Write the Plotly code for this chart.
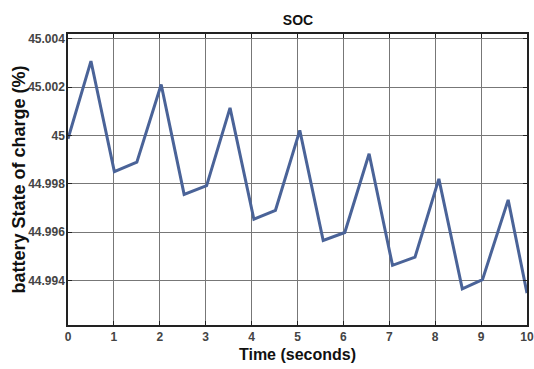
import plotly.graph_objects as go

time_s = [0, 0.50, 1.01, 1.50, 2.03, 2.53, 3.02, 3.53, 4.05, 4.52, 5.05, 5.56, 6.03, 6.56,
          7.07, 7.56, 8.08, 8.59, 9.03, 9.59, 10.0]
soc = [44.99986, 45.00308, 44.99850, 44.99889, 45.00211, 44.99756, 44.99792, 45.00114,
       44.99653, 44.99690, 45.00021, 44.99565, 44.99598, 44.99924, 44.99462, 44.99496,
       44.99820, 44.99365, 44.99403, 44.99733, 44.99347]
x_ticks = list(range(0, 11))
y_ticks = [44.994, 44.996, 44.998, 45.0, 45.002, 45.004]
y_tick_text = ["44.994", "44.996", "44.998", "45", "45.002", "45.004"]

fig = go.Figure(go.Scatter(x=time_s, y=soc, mode="lines",
                           line=dict(color="#4a6398", width=3)))

font = "Liberation Sans, Arial, sans-serif"
W, H = 534, 369
ml, mr, mt, mb = 68, 7, 34, 44
fig.update_layout(
    width=W, height=H,
    margin=dict(l=ml, r=mr, t=mt, b=mb, autoexpand=False),
    paper_bgcolor="white", plot_bgcolor="white",
    showlegend=False,
    title=dict(text="<b>SOC</b>", x=0.558, xanchor="center", y=0.945, yanchor="middle",
               font=dict(family=font, size=14, color="#111")),
    font=dict(family=font, color="#333"),
    annotations=[dict(text="<b>battery State of charge (%)</b>", textangle=-90,
                      xref="paper", yref="paper",
                      x=(18 - ml) / (W - ml - mr), y=0.5,
                      xanchor="center", yanchor="middle", showarrow=False,
                      font=dict(family=font, size=18, color="#111"))],
)
fig.update_xaxes(range=[0, 10], tickvals=x_ticks, ticktext=[f"<b>{v}</b>" for v in x_ticks],
                 automargin=False,
                 showgrid=True, gridcolor="#777", gridwidth=1,
                 showline=True, linecolor="#222", linewidth=1.5, mirror="allticks",
                 ticks="inside", ticklen=4, tickcolor="#222",
                 tickfont=dict(size=12, color="#444"), zeroline=False,
                 title=dict(text="<b>Time (seconds)</b>", standoff=6,
                            font=dict(size=16, color="#111")))
fig.update_yaxes(range=[44.99215, 45.0042], tickvals=y_ticks,
                 ticktext=[f"<b>{t}</b>" for t in y_tick_text],
                 automargin=False, ticklabelstandoff=-1,
                 showgrid=True, gridcolor="#777", gridwidth=1,
                 showline=True, linecolor="#222", linewidth=1.5, mirror="allticks",
                 ticks="inside", ticklen=4, tickcolor="#222",
                 tickfont=dict(size=12, color="#444"), zeroline=False)

fig.write_html("out.html", config={"displayModeBar": False},
               post_script="document.body.style.margin='0';")
